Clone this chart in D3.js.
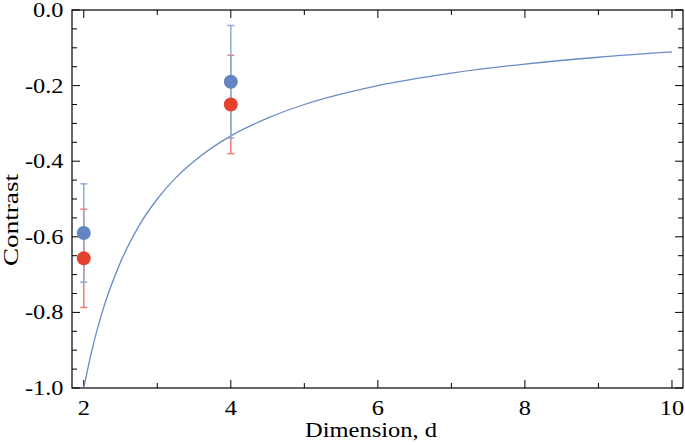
<!DOCTYPE html>
<html><head><meta charset="utf-8">
<script src="https://cdn.jsdelivr.net/npm/d3@7"></script>
<style>body{margin:0;background:#fff}svg{display:block}</style>
</head><body><svg id="c" width="685" height="445"></svg>
<script>
// Data
const dims = [2, 4];
const blueVals = [-0.590, -0.190];
const blueErr = [0.130, 0.149];
const redVals = [-0.657, -0.250];
const redErr = [0.130, 0.130];
const curveD = [2, 2.1, 2.25, 2.5, 2.75, 3, 3.25, 3.5, 4, 4.5, 5, 6, 7, 8, 9, 10];
const curveC = [-1, -0.909, -0.8, -0.667, -0.571, -0.5, -0.444, -0.4, -0.333, -0.286, -0.25, -0.2, -0.167, -0.143, -0.125, -0.111];
const xTicks = [2, 4, 6, 8, 10];
const yTicks = [0, -0.2, -0.4, -0.6, -0.8, -1.0];

const svg = d3.select("#c");
const L = 72, R = 683, T = 10, B = 388;
const x = d3.scaleLinear().domain([1.84, 10.15]).range([L, R]);
const y = d3.scaleLinear().domain([-1, 0]).range([B, T]);
const font = "'Liberation Serif', 'DejaVu Serif', serif";
const fs = 21, sx = 1.16;

// frame
svg.append("rect").attr("x", L).attr("y", T).attr("width", R - L).attr("height", B - T)
  .attr("fill", "none").attr("stroke", "#000").attr("stroke-width", 1.2);

// ticks (inward), mirrored
const xMinor = d3.range(2, 10.5, 1);
const yMinor = d3.range(0, -1.001, -0.05).map(v => +v.toFixed(2));
const g = svg.append("g").attr("stroke", "#000").attr("stroke-width", 1);
xMinor.forEach(v => {
  const len = (v % 2 === 0) ? 8 : 5;
  g.append("line").attr("x1", x(v)).attr("x2", x(v)).attr("y1", B).attr("y2", B - len);
  g.append("line").attr("x1", x(v)).attr("x2", x(v)).attr("y1", T).attr("y2", T + len);
});
yMinor.forEach(v => {
  const major = Math.abs(Math.round(v * 100)) % 20 === 0;
  const len = major ? 8 : 5;
  g.append("line").attr("y1", y(v)).attr("y2", y(v)).attr("x1", L).attr("x2", L + len);
  g.append("line").attr("y1", y(v)).attr("y2", y(v)).attr("x1", R).attr("x2", R - len);
});

// tick labels (slightly widened to mimic the original serif face)
svg.append("g").selectAll("g").data(xTicks).join("g")
  .attr("transform", d => `translate(${x(d)},415) scale(${sx},1)`)
  .append("text").attr("text-anchor", "middle")
  .attr("font-family", font).attr("font-size", fs).text(d => d);
svg.append("g").selectAll("g").data(yTicks).join("g")
  .attr("transform", d => `translate(63.5,${y(d) + 7}) scale(${sx},1)`)
  .append("text").attr("text-anchor", "end")
  .attr("font-family", font).attr("font-size", fs).text(d => d.toFixed(1));

// axis titles
svg.append("text").attr("x", 371).attr("y", 437).attr("text-anchor", "middle")
  .attr("font-family", font).attr("font-size", 20)
  .attr("textLength", 132).attr("lengthAdjust", "spacingAndGlyphs").text("Dimension,  d");
svg.append("text").attr("transform", `translate(18,220) rotate(-90)`)
  .attr("text-anchor", "middle").attr("font-family", font).attr("font-size", 20)
  .attr("textLength", 92).attr("lengthAdjust", "spacingAndGlyphs").text("Contrast");

// curve
svg.append("clipPath").attr("id", "clp").append("rect")
  .attr("x", L).attr("y", T).attr("width", R - L).attr("height", B - T);
svg.append("path").datum(curveD.map((d, i) => [d, curveC[i]]))
  .attr("clip-path", "url(#clp)")
  .attr("d", d3.line().x(p => x(p[0])).y(p => y(p[1])).curve(d3.curveMonotoneX))
  .attr("fill", "none").attr("stroke", "#6a8bc7").attr("stroke-width", 1.3);

// error bars
function errBars(vals, errs, color) {
  const eg = svg.append("g").attr("stroke", color).attr("stroke-width", 1.5);
  dims.forEach((d, i) => {
    const cx = x(d), y1 = y(vals[i] + errs[i]), y2 = y(vals[i] - errs[i]);
    eg.append("line").attr("x1", cx).attr("x2", cx).attr("y1", y1).attr("y2", y2);
    eg.append("line").attr("x1", cx - 3.5).attr("x2", cx + 3.5).attr("y1", y1).attr("y2", y1);
    eg.append("line").attr("x1", cx - 3.5).attr("x2", cx + 3.5).attr("y1", y2).attr("y2", y2);
  });
}
errBars(redVals, redErr, "#ef7c72");
errBars(blueVals, blueErr, "#8eaad9");

// points
svg.append("g").selectAll("circle").data(dims).join("circle")
  .attr("cx", d => x(d)).attr("cy", (d, i) => y(blueVals[i])).attr("r", 7).attr("fill", "#6386c3");
svg.append("g").selectAll("circle").data(dims).join("circle")
  .attr("cx", d => x(d)).attr("cy", (d, i) => y(redVals[i])).attr("r", 7).attr("fill", "#e5412f");
</script></body></html>
